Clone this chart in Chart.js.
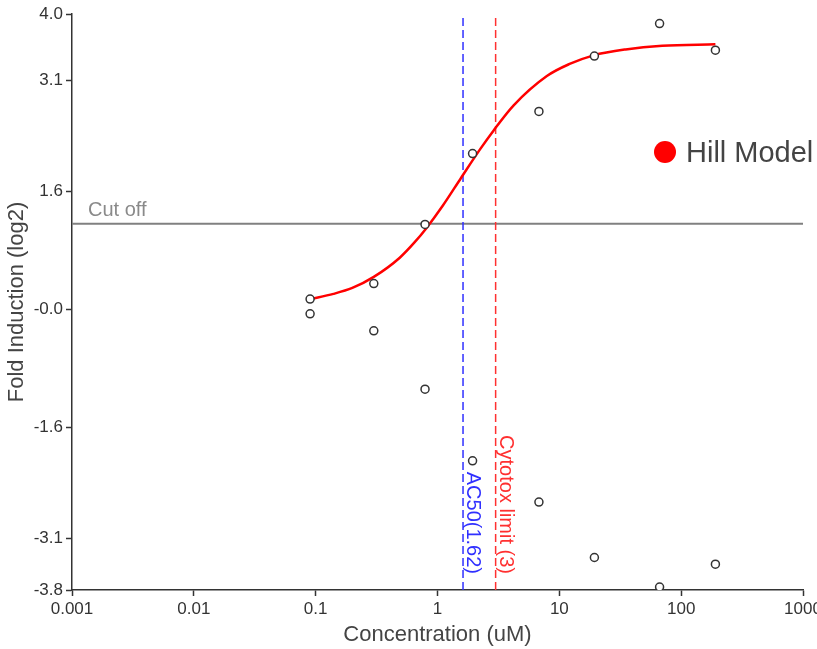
<!DOCTYPE html>
<html>
<head>
<meta charset="utf-8">
<script src="https://cdn.jsdelivr.net/npm/chart.js@4"></script>
<style>
  html, body { margin: 0; padding: 0; background: #fff; }
  canvas { display: block; }
</style>
</head>
<body>
<canvas id="chart" width="817" height="649"></canvas>
<script>
// observed points: concentration (uM) and log2 fold induction, two replicates
const concentrations = [0.09, 0.3, 0.79, 1.94, 6.8, 19.4, 66.5, 191];
const replicateA = [0.14, 0.35, 1.15, 2.11, 2.68, 3.43, 3.87, 3.51];
const replicateB = [-0.06, -0.29, -1.08, -2.05, -2.61, -3.36, -3.76, -3.45];

// hill model curve
const hillX = [0.09, 0.14, 0.2, 0.3, 0.49, 0.65, 0.81, 1.1, 1.56, 2.24, 2.88, 4.2, 7.9, 12, 19.1, 35, 70, 191];
const hillY = [0.14, 0.21, 0.29, 0.44, 0.70, 0.91, 1.10, 1.40, 1.78, 2.17, 2.42, 2.76, 3.16, 3.32, 3.44, 3.52, 3.57, 3.59];

const cutoff = 1.16;
const ac50 = 1.62;
const cytotoxLimit = 3;

const xTicks = [0.001, 0.01, 0.1, 1, 10, 100, 1000];
const xTickLabels = ['0.001', '0.01', '0.1', '1', '10', '100', '1000'];
const yTicks = [-3.8, -3.1, -1.6, 0, 1.6, 3.1, 4.0];
const yTickLabels = ['-3.8', '-3.1', '-1.6', '-0.0', '1.6', '3.1', '4.0'];

const FONT = '"Liberation Sans", Arial, sans-serif';
Chart.defaults.font.family = FONT;
Chart.defaults.color = '#333';

const xMin = xTicks[0], xMax = xTicks[xTicks.length - 1];
const yMin = yTicks[0], yMax = yTicks[yTicks.length - 1];

const points = [];
concentrations.forEach((c, i) => {
  points.push({ x: c, y: replicateA[i] });
  points.push({ x: c, y: replicateB[i] });
});

// text labels, legend
const annotations = {
  id: 'annotations',
  afterDatasetsDraw(chart) {
    const { ctx, chartArea } = chart;
    const x = chart.scales.x, y = chart.scales.y;
    ctx.save();

    ctx.font = '20px ' + FONT;
    ctx.fillStyle = '#8a8a8a';
    ctx.textBaseline = 'alphabetic';
    ctx.fillText('Cut off', chartArea.left + 16, y.getPixelForValue(cutoff) - 8);

    const vlabel = (value, text, color) => {
      ctx.save();
      ctx.translate(x.getPixelForValue(value) + 4, chartArea.bottom - 16);
      ctx.rotate(Math.PI / 2);
      ctx.font = '20px ' + FONT;
      ctx.textAlign = 'right';
      ctx.fillStyle = color;
      ctx.fillText(text, 0, 0);
      ctx.restore();
    };
    vlabel(ac50, 'AC50(' + ac50 + ')', '#3030ff');
    vlabel(cytotoxLimit, 'Cytotox limit (' + cytotoxLimit + ')', '#ff3030');

    // legend
    ctx.beginPath();
    ctx.arc(665, 152, 11, 0, Math.PI * 2);
    ctx.fillStyle = '#ff0000';
    ctx.fill();
    ctx.font = '29px ' + FONT;
    ctx.fillStyle = '#444';
    ctx.textBaseline = 'middle';
    ctx.fillText('Hill Model', 686, 154);
    ctx.restore();
  }
};

new Chart(document.getElementById('chart'), {
  type: 'scatter',
  data: {
    datasets: [
      {
        label: 'Observed',
        data: points,
        pointRadius: 4,
        pointBorderColor: '#333',
        pointBackgroundColor: '#fff',
        pointBorderWidth: 1.5,
        clip: 0,
        order: 0
      },
      {
        label: 'Hill Model',
        data: hillX.map((v, i) => ({ x: v, y: hillY[i] })),
        showLine: true,
        borderColor: '#ff0000',
        borderWidth: 2.5,
        pointRadius: 0,
        cubicInterpolationMode: 'monotone',
        order: 1
      },
      {
        label: 'Cut off',
        data: [{ x: xMin, y: cutoff }, { x: xMax, y: cutoff }],
        showLine: true,
        borderColor: '#808080',
        borderWidth: 2,
        pointRadius: 0,
        order: 4
      },
      {
        label: 'AC50',
        data: [{ x: ac50, y: yMin }, { x: ac50, y: yMax }],
        showLine: true,
        borderColor: '#3030ff',
        borderWidth: 1.5,
        borderDash: [8, 4],
        pointRadius: 0,
        order: 3
      },
      {
        label: 'Cytotox limit',
        data: [{ x: cytotoxLimit, y: yMin }, { x: cytotoxLimit, y: yMax }],
        showLine: true,
        borderColor: '#ff3030',
        borderWidth: 1.5,
        borderDash: [8, 4],
        pointRadius: 0,
        order: 3
      }
    ]
  },
  options: {
    responsive: false,
    animation: false,
    layout: { padding: { top: 14, right: 14, left: 0, bottom: 0 } },
    plugins: {
      legend: { display: false },
      tooltip: { enabled: false }
    },
    scales: {
      x: {
        type: 'logarithmic',
        min: xMin,
        max: xMax,
        afterBuildTicks: s => { s.ticks = xTicks.map(v => ({ value: v })); },
        afterFit: s => { s.height = 59; s.paddingLeft = 0; s.paddingRight = 0; },
        ticks: {
          callback: (v, i) => xTickLabels[i],
          autoSkip: false,
          maxRotation: 0,
          color: '#333',
          font: { size: 17 },
          padding: 3
        },
        grid: { drawOnChartArea: false, drawTicks: true, tickLength: 6, tickColor: '#333', tickWidth: 1.5 },
        border: { color: '#333', width: 1.5 },
        title: { display: true, text: 'Concentration (uM)', color: '#444', font: { size: 22 }, padding: { top: 0, bottom: 1 } }
      },
      y: {
        min: yMin,
        max: yMax,
        afterBuildTicks: s => { s.ticks = yTicks.map(v => ({ value: v })); },
        afterFit: s => { s.width = 72; s.paddingTop = 0; s.paddingBottom = 0; },
        ticks: {
          callback: (v, i) => yTickLabels[i],
          autoSkip: false,
          color: '#333',
          font: { size: 17 },
          padding: 3
        },
        grid: { drawOnChartArea: false, drawTicks: true, tickLength: 6, tickColor: '#333', tickWidth: 1.5 },
        border: { color: '#333', width: 1.5 },
        title: { display: true, text: 'Fold Induction (log2)', color: '#444', font: { size: 22 }, padding: { top: 4, bottom: 0 } }
      }
    }
  },
  plugins: [annotations]
});
</script>
</body>
</html>
